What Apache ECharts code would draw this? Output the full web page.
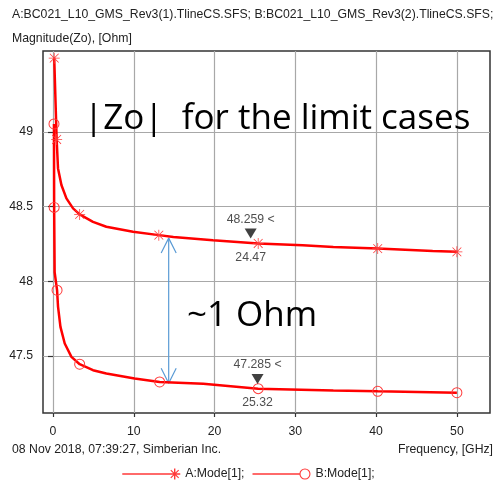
<!DOCTYPE html>
<html>
<head>
<meta charset="utf-8">
<script src="https://cdn.jsdelivr.net/npm/echarts@6/dist/echarts.min.js"></script>
<style>
  html, body { margin: 0; padding: 0; background: #fff; }
  #chart { width: 497px; height: 480px; }
</style>
</head>
<body>
<div id="chart"></div>
<script>
// Case A: frequency [GHz] and |Zo| [Ohm]
const freqA = [0.15, 0.45, 0.62, 1.04, 1.66, 2.48, 3.3, 4.95, 6.6, 9.9, 13.1, 14.9, 19.8, 25.4, 30.9, 34.7, 40.2, 47.0, 50.0];
const zoA   = [49.495, 48.95, 48.756, 48.645, 48.555, 48.488, 48.448, 48.398, 48.365, 48.331, 48.309, 48.297, 48.275, 48.253, 48.242, 48.230, 48.219, 48.203, 48.197];
const markFreqA = [0.15, 0.45, 3.3, 13.1, 25.4, 40.2, 50.0];

// Case B: frequency [GHz] and |Zo| [Ohm]
const freqB = [0.12, 0.14, 0.2, 0.5, 0.62, 0.92, 1.45, 2.28, 3.3, 4.95, 6.6, 10.1, 13.2, 18.6, 25.4, 34.7, 40.2, 50.0];
const zoB   = [49.054, 48.495, 48.06, 47.94, 47.83, 47.694, 47.583, 47.493, 47.444, 47.404, 47.382, 47.348, 47.325, 47.313, 47.28, 47.268, 47.262, 47.253];
const markFreqB = [0.12, 0.14, 0.5, 3.3, 13.2, 25.4, 40.2, 50.0];

// Cursor readouts (frequency, |Zo|) on each curve
const cursorFreq = [24.47, 25.32];
const cursorZo   = [48.259, 47.285];

// Difference arrow between the curves
const arrowFreq = 14.32;
const arrowZo = [48.289, 47.317];

// Axis ticks
const xTicks = [0, 10, 20, 30, 40, 50];
const yTicks = [47.5, 48, 48.5, 49];
const xRange = [-1.24, 54.1];
const yRange = [47.117, 49.543];

const seriesNames = ['A:Mode[1];', 'B:Mode[1];'];

const RED = '#ff0000';
const FONT = 'Liberation Sans';
const SMALL = '12.25px "Liberation Sans"';
const BIG = '35px "Open Sans"';

const asterisk = 'path://M9.3,0H10.7V20H9.3Z M0,9.3H20V10.7H0Z M2.5,1.5L18.5,17.5L17.5,18.5L1.5,2.5Z M17.5,1.5L18.5,2.5L2.5,18.5L1.5,17.5Z';
const ring = 'path://M10,0A10,10,0,1,1,9.99,0Z M10,1.8A8.2,8.2,0,1,0,10.01,1.8Z';
const downTriangle = 'path://M0,0L12,0L6,10Z';

const legendIconA = 'path://M0,5.3H50V6.7H0Z M51.3,0.5H52.7V11.5H51.3Z M46.5,5.3H57.5V6.7H46.5Z M48.5,1.7L56.3,9.5L55.5,10.3L47.7,2.5Z M55.5,1.7L56.3,2.5L48.5,10.3L47.7,9.5Z';
const legendIconB = 'path://M0,5.3H47V6.7H0Z M52,0.5A5.5,5.5,0,1,1,51.99,0.5Z M52,1.6A4.4,4.4,0,1,0,52.01,1.6Z';

function buildData(freq, zo, marks, sym) {
  return freq.map((f, i) => ({
    value: [f, zo[i]],
    symbol: marks.indexOf(f) >= 0 ? sym : 'none'
  }));
}

const cursorData = cursorFreq.map((f, i) => [f, cursorZo[i]]);

const chart = echarts.init(document.getElementById('chart'), null, { renderer: 'canvas' });

chart.setOption({
  animation: false,
  textStyle: { fontFamily: FONT },
  grid: {
    left: 43, right: 7, top: 51, bottom: 67,
    show: true, borderColor: '#333', borderWidth: 1.5, backgroundColor: 'transparent'
  },
  legend: {
    data: [
      { name: seriesNames[0], icon: legendIconA },
      { name: seriesNames[1], icon: legendIconB }
    ],
    left: 'center', top: 463,
    itemWidth: 58, itemHeight: 12, itemGap: 8,
    itemStyle: { borderWidth: 0 },
    textStyle: { fontSize: 12.25, color: '#222', fontFamily: FONT }
  },
  xAxis: {
    type: 'value', min: xRange[0], max: xRange[1],
    axisLine: { show: false },
    axisTick: { show: true, customValues: xTicks, length: 4, lineStyle: { color: '#333', width: 1.2 } },
    axisLabel: { customValues: xTicks, margin: 13, fontSize: 12.25, color: '#222', fontFamily: FONT },
    splitLine: { show: true, lineStyle: { color: '#a8a8a8', width: 1.2 } }
  },
  yAxis: {
    type: 'value', min: yRange[0], max: yRange[1],
    axisLine: { show: false },
    axisTick: { show: true, customValues: yTicks, length: 5, lineStyle: { color: '#333', width: 1.2 } },
    axisLabel: { customValues: yTicks, margin: 10, fontSize: 12.25, color: '#222', fontFamily: FONT },
    splitLine: { show: true, lineStyle: { color: '#a8a8a8', width: 1.2 } }
  },
  series: [
    {
      name: seriesNames[0], type: 'line',
      data: buildData(freqA, zoA, markFreqA, asterisk),
      symbolSize: 11,
      lineStyle: { color: RED, width: 2.5 },
      itemStyle: { color: '#ff3a3a', borderWidth: 0 },
      z: 3
    },
    {
      name: seriesNames[1], type: 'line',
      data: buildData(freqB, zoB, markFreqB, ring),
      symbolSize: 11,
      lineStyle: { color: RED, width: 2.5 },
      itemStyle: { color: '#ff3a3a', borderWidth: 0 },
      z: 3
    },
    {
      type: 'line', silent: true, symbol: 'none',
      data: [[arrowFreq, arrowZo[0]], [arrowFreq, arrowZo[1]]],
      lineStyle: { color: '#5b9bd5', width: 1.2 }, z: 2
    },
    {
      type: 'line', silent: true, symbol: 'none',
      data: [[arrowFreq - 0.93, arrowZo[0] - 0.1], [arrowFreq, arrowZo[0]], [arrowFreq + 0.93, arrowZo[0] - 0.1]],
      lineStyle: { color: '#5b9bd5', width: 1.2 }, z: 2
    },
    {
      type: 'line', silent: true, symbol: 'none',
      data: [[arrowFreq - 0.93, arrowZo[1] + 0.1], [arrowFreq, arrowZo[1]], [arrowFreq + 0.93, arrowZo[1] + 0.1]],
      lineStyle: { color: '#5b9bd5', width: 1.2 }, z: 2
    },
    {
      type: 'scatter', silent: true,
      data: cursorData,
      symbol: downTriangle, symbolSize: [12, 10], symbolOffset: [0, -9],
      itemStyle: { color: '#111' },
      label: {
        show: true, position: 'top', distance: 3,
        formatter: p => p.value[1].toFixed(3) + ' <',
        fontSize: 12.25, color: '#222', fontFamily: FONT
      },
      z: 5
    },
    {
      type: 'scatter', silent: true,
      data: cursorData,
      symbol: 'circle', symbolSize: 2,
      itemStyle: { color: 'rgba(0,0,0,0)' },
      label: {
        show: true, position: 'bottom', distance: 8,
        formatter: p => p.value[0].toFixed(2),
        fontSize: 12.25, color: '#222', fontFamily: FONT
      },
      z: 5
    }
  ],
  graphic: [
    { type: 'text', x: 12, y: 15, style: { text: 'A:BC021_L10_GMS_Rev3(1).TlineCS.SFS; B:BC021_L10_GMS_Rev3(2).TlineCS.SFS;', font: SMALL, fill: '#222', verticalAlign: 'middle' } },
    { type: 'text', x: 12, y: 39, style: { text: 'Magnitude(Zo), [Ohm]', font: SMALL, fill: '#222', verticalAlign: 'middle' } },
    { type: 'text', x: 12, y: 450, style: { text: '08 Nov 2018, 07:39:27, Simberian Inc.', font: SMALL, fill: '#222', verticalAlign: 'middle' } },
    { type: 'text', x: 493, y: 450, style: { text: 'Frequency, [GHz]', font: SMALL, fill: '#222', verticalAlign: 'middle', align: 'right' } },
    { type: 'text', x: 84, y: 119, z: 10, style: { text: '|Zo|  for the limit cases', font: BIG, fill: '#000', verticalAlign: 'middle' } },
    { type: 'text', x: 187, y: 316, z: 10, style: { text: '~1 Ohm', font: BIG, fill: '#000', verticalAlign: 'middle' } }
  ]
});
</script>
</body>
</html>
